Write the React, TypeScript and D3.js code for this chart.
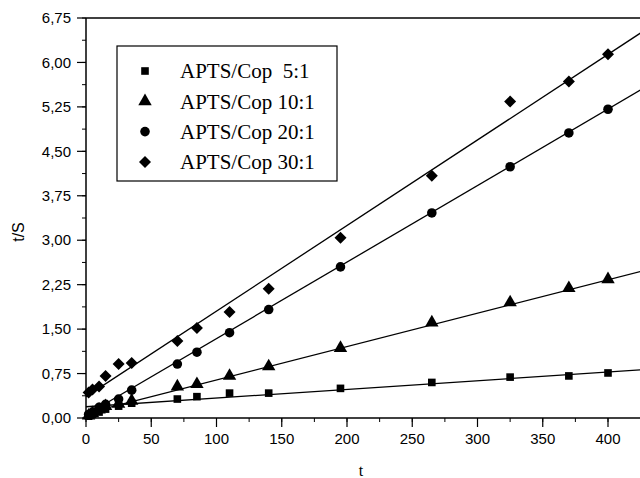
import React from "react";
import * as d3 from "d3";

const seriesNames = ["APTS/Cop  5:1", "APTS/Cop 10:1", "APTS/Cop 20:1", "APTS/Cop 30:1"];
const times = [2, 5, 10, 15, 25, 35, 70, 85, 110, 140, 195, 265, 325, 370, 400];
const s5 = [0.03, 0.06, 0.1, 0.15, 0.2, 0.25, 0.32, 0.36, 0.42, 0.42, 0.5, 0.6, 0.69, 0.71, 0.76];
const s10 = [0.04, 0.08, 0.14, 0.2, 0.24, 0.29, 0.53, 0.57, 0.71, 0.87, 1.18, 1.61, 1.95, 2.19, 2.34];
const s20 = [0.06, 0.1, 0.18, 0.23, 0.32, 0.47, 0.91, 1.11, 1.44, 1.83, 2.55, 3.46, 4.24, 4.81, 5.21];
const s30 = [0.43, 0.48, 0.53, 0.71, 0.91, 0.93, 1.3, 1.52, 1.79, 2.18, 3.04, 4.09, 5.34, 5.68, 6.14];
// fitted lines: value at t=0 and at t=430
const fitStart = [0.19, 0.08, 0.05, 0.36];
const fitEnd = [0.82, 2.5, 5.6, 6.57];
const fitT = [0, 430];
const xTicks = [0, 50, 100, 150, 200, 250, 300, 350, 400];
const yTicks = [0, 0.75, 1.5, 2.25, 3, 3.75, 4.5, 5.25, 6, 6.75];

const allSeries = [s5, s10, s20, s30];
const symbols = [d3.symbolSquare, d3.symbolTriangle, d3.symbolCircle, d3.symbolSquare];
const symSizes = [58, 78, 72, 72];
const symRot = [0, 0, 0, 45];

const W = 640, H = 478;
const x = d3.scaleLinear().domain([0, 400]).range([86, 608]);
const y = d3.scaleLinear().domain([0, 6.75]).range([418, 18]);
const fmt = (v: number) => v.toFixed(2).replace(".", ",");

export default function App() {
  const line = d3.line<[number, number]>().x((d) => x(d[0])).y((d) => y(d[1]));
  const xMinor = d3.range(0, 426, 25);
  const yMinor = d3.range(0, 6.76, 0.375);
  const sym = (i: number) => d3.symbol().type(symbols[i]).size(symSizes[i])() as string;
  return (
    <svg width={W} height={H} style={{ position: "absolute", left: 0, top: 0, background: "#fff" }}>
      <rect x={0} y={0} width={W} height={H} fill="#fff" />
      {allSeries.map((_, i) => (
        <path key={"f" + i} d={line([[fitT[0], fitStart[i]], [fitT[1], fitEnd[i]]]) as string} stroke="#000" strokeWidth={1.3} fill="none" />
      ))}
      {allSeries.map((s, i) =>
        s.map((v, j) => (
          <path key={"p" + i + "-" + j} d={sym(i)} transform={`translate(${x(times[j])},${y(v)}) rotate(${symRot[i]})`} fill="#000" />
        ))
      )}
      <line x1={86} x2={86} y1={18} y2={418} stroke="#000" strokeWidth={1.5} />
      <line x1={86} x2={640} y1={418} y2={418} stroke="#000" strokeWidth={1.5} />
      <line x1={86} x2={640} y1={18} y2={18} stroke="#000" strokeWidth={1.5} />
      {yMinor.map((v, i) => (
        <line key={"ym" + i} x1={82} x2={86} y1={y(v)} y2={y(v)} stroke="#000" strokeWidth={1} />
      ))}
      {yTicks.map((v) => (
        <g key={"y" + v}>
          <line x1={77} x2={86} y1={y(v)} y2={y(v)} stroke="#000" strokeWidth={1.2} />
          <text x={71} y={y(v)} dy="0.35em" textAnchor="end" fontFamily="Liberation Sans, Arial, sans-serif" fontSize={15}>
            {fmt(v)}
          </text>
        </g>
      ))}
      {xMinor.map((v, i) => (
        <line key={"xm" + i} x1={x(v)} x2={x(v)} y1={418} y2={422} stroke="#000" strokeWidth={1} />
      ))}
      {xTicks.map((v) => (
        <g key={"x" + v}>
          <line x1={x(v)} x2={x(v)} y1={418} y2={427} stroke="#000" strokeWidth={1.2} />
          <text x={x(v)} y={444} textAnchor="middle" fontFamily="Liberation Sans, Arial, sans-serif" fontSize={15}>
            {v}
          </text>
        </g>
      ))}
      <text x={361} y={476} textAnchor="middle" fontFamily="Liberation Serif, Times New Roman, serif" fontSize={16}>
        t
      </text>
      <text transform="translate(24,232) rotate(-90)" textAnchor="middle" fontFamily="Liberation Sans, Arial, sans-serif" fontSize={16}>
        t/S
      </text>
      <rect x={117} y={46} width={220} height={135} fill="#fff" stroke="#000" strokeWidth={1.2} />
      {seriesNames.map((n, i) => (
        <g key={"l" + i} transform={`translate(0,${71 + i * 30.3})`}>
          <path d={sym(i)} transform={`translate(145,0) rotate(${symRot[i]})`} fill="#000" />
          <text x={180} y={0} dy="0.35em" fontFamily="Liberation Serif, Times New Roman, serif" fontSize={21} style={{ whiteSpace: "pre" }}>
            {n}
          </text>
        </g>
      ))}
    </svg>
  );
}
